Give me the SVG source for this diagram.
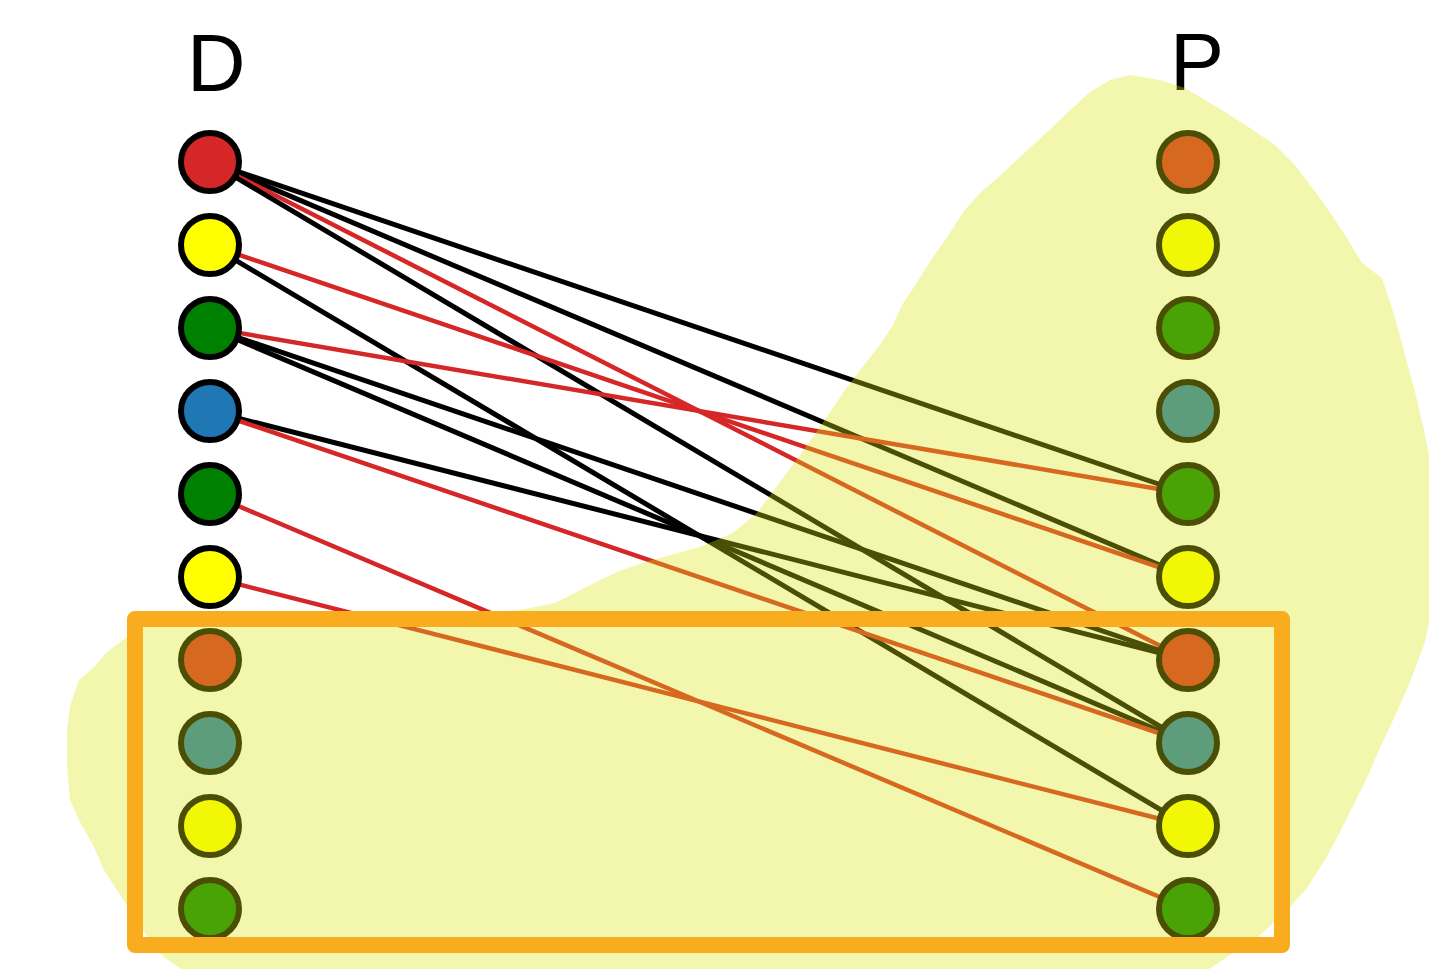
<svg xmlns="http://www.w3.org/2000/svg" width="1429" height="969" viewBox="0 0 1429 969">
<style>
  .lbl { font-family: "Liberation Sans", Arial, sans-serif; font-size: 81px; fill: #000; }
  .edge { fill: none; stroke-linecap: round; }
  .blk { stroke: #000; stroke-width: 5; }
  .red { stroke: #d62728; stroke-width: 4.5; }
  .node { stroke: #000; stroke-width: 6; }
  .cR { fill: #d62728; } .cY { fill: #ffff00; } .cG { fill: #008000; } .cB { fill: #1f77b4; }
</style>
<rect width="1429" height="969" fill="#fff"/>
<g id="connectors">
  <line class="edge blk" x1="210" y1="162" x2="1188" y2="494"/>
  <line class="edge blk" x1="210" y1="162" x2="1188" y2="577"/>
  <line class="edge red" x1="210" y1="162" x2="1188" y2="660"/>
  <line class="edge blk" x1="210" y1="162" x2="1188" y2="743"/>
  <line class="edge red" x1="210" y1="245" x2="1188" y2="577"/>
  <line class="edge blk" x1="210" y1="245" x2="1188" y2="826"/>
  <line class="edge red" x1="210" y1="328" x2="1188" y2="494"/>
  <line class="edge blk" x1="210" y1="328" x2="1188" y2="660"/>
  <line class="edge blk" x1="210" y1="328" x2="1188" y2="743"/>
  <line class="edge blk" x1="210" y1="411" x2="1188" y2="660"/>
  <line class="edge red" x1="210" y1="411" x2="1188" y2="743"/>
  <line class="edge red" x1="210" y1="494" x2="1188" y2="909"/>
  <line class="edge red" x1="210" y1="577" x2="1188" y2="826"/>
</g>
<g id="D1"><circle class="node cR" cx="210" cy="162" r="29"/></g>
<g id="D2"><circle class="node cY" cx="210" cy="245" r="29"/></g>
<g id="D3"><circle class="node cG" cx="210" cy="328" r="29"/></g>
<g id="D4"><circle class="node cB" cx="210" cy="411" r="29"/></g>
<g id="D5"><circle class="node cG" cx="210" cy="494" r="29"/></g>
<g id="D6"><circle class="node cY" cx="210" cy="577" r="29"/></g>
<g id="D7"><circle class="node cR" cx="210" cy="660" r="29"/></g>
<g id="D8"><circle class="node cB" cx="210" cy="743" r="29"/></g>
<g id="D9"><circle class="node cY" cx="210" cy="826" r="29"/></g>
<g id="D10"><circle class="node cG" cx="210" cy="909" r="29"/></g>
<g id="P1"><circle class="node cR" cx="1188" cy="162" r="29"/></g>
<g id="P2"><circle class="node cY" cx="1188" cy="245" r="29"/></g>
<g id="P3"><circle class="node cG" cx="1188" cy="328" r="29"/></g>
<g id="P4"><circle class="node cB" cx="1188" cy="411" r="29"/></g>
<g id="P5"><circle class="node cG" cx="1188" cy="494" r="29"/></g>
<g id="P6"><circle class="node cY" cx="1188" cy="577" r="29"/></g>
<g id="P7"><circle class="node cR" cx="1188" cy="660" r="29"/></g>
<g id="P8"><circle class="node cB" cx="1188" cy="743" r="29"/></g>
<g id="P9"><circle class="node cY" cx="1188" cy="826" r="29"/></g>
<g id="P10"><circle class="node cG" cx="1188" cy="909" r="29"/></g>
<g id="labels">
  <text class="lbl" x="187" y="91">D</text>
  <text class="lbl" x="1170" y="90">P</text>
</g>
<path id="blob" fill="#d8e810" fill-opacity="0.34" stroke="none" stroke-linejoin="round"
  d="M1130,75 L1160,80 L1185,88 L1205,100 L1225,112 L1250,128 L1275,145 L1295,165 L1310,185 L1325,205 L1345,235 L1362,263 L1382,278 L1395,318 L1405,355 L1415,392 L1424,430 L1432,470 L1432,610 L1424,645 L1410,682 L1395,716 L1380,748 L1365,782 L1350,812 L1340,832 L1325,860 L1307,888 L1287,910 L1258,937 L1230,955 L1200,975 L190,975 L165,958 L152,945 L138,922 L120,895 L104,870 L93,845 L80,822 L70,800 L67,765 L67,730 L70,706 L79,680 L93,668 L107,652 L127,637 L142,624 L300,618 L450,614 L520,610 L555,603 L600,580 L622,570 L652,560 L700,547 L733,533 L757,513 L780,482 L800,455 L822,424 L845,390 L864,365 L880,345 L893,325 L902,305 L914,287 L931,260 L948,236 L964,211 L981,192 L1001,175 L1021,156 L1043,136 L1066,114 L1090,92 L1110,80 Z"/>
<rect id="box" x="135" y="619" width="1147" height="326" fill="none" stroke="#f9ac1d" stroke-width="16" stroke-linejoin="round"/>
</svg>
